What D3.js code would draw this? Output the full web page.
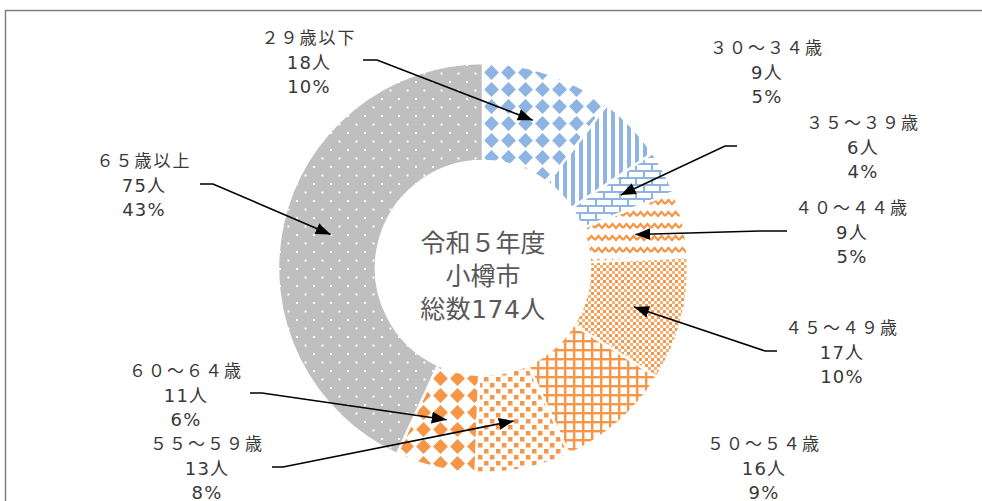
<!DOCTYPE html>
<html><head><meta charset="utf-8">
<script src="https://cdn.jsdelivr.net/npm/d3@7/dist/d3.min.js"></script>
<style>html,body{margin:0;padding:0;background:#fff;}svg{display:block;}</style>
</head><body>
<script>
// ---- data ----
const categories = ["２９歳以下","３０～３４歳","３５～３９歳","４０～４４歳","４５～４９歳","５０～５４歳","５５～５９歳","６０～６４歳","６５歳以上"];
const counts = [18, 9, 6, 9, 17, 16, 13, 11, 75];
const percents = ["10%","5%","4%","5%","10%","9%","8%","6%","43%"];
const centerLines = ["令和５年度","小樽市","総数174人"];
const patternIds = ["pDiamBlue","pStripeBlue","pBrickBlue","pWaveOrange","pCheckOrange","pGridOrange","pSquaresOrange","pDiamOrange","pDotsGray"];

// ---- layout (label placement, leader elbows) ----
const labelPos = [[309,62],[767,72],[863,147],[852,232],[842,352],[764,468],[207,468],[186,395],[144,185]];
const leaderElbow = [[363,377,60],null,[737,725,146],[787,760,231],[777,765,351],null,[272,283,467],[250,262,393],[200,213,184]];

const W = 982, H = 501;
const cx = 483, cy = 268, rOuter = 205, rInner = 107;
const blue = "#8DB4E2", orange = "#F79646", gray = "#BFBFBF";
const fontFam = "'DejaVu Sans','Noto Sans CJK JP',sans-serif";

const svg = d3.select("body").append("svg").attr("width", W).attr("height", H);
const defs = svg.append("defs");

function pat(id, w, h, bg) {
  const p = defs.append("pattern").attr("id", id).attr("patternUnits", "userSpaceOnUse")
    .attr("width", w).attr("height", h);
  p.append("rect").attr("width", w).attr("height", h).attr("fill", bg);
  return p;
}
function diamonds(id, col) {
  const p = pat(id, 17, 17, "#fff");
  const s = 7.4;
  p.append("path").attr("d", `M8.5,${8.5-s}L${8.5+s},8.5L8.5,${8.5+s}L${8.5-s},8.5Z`).attr("fill", col);
  p.append("circle").attr("cx",8.5).attr("cy",8.5).attr("r",4.8).attr("fill",col);
}
diamonds("pDiamBlue", blue);
diamonds("pDiamOrange", orange);
{ const p = pat("pStripeBlue", 8, 8, "#fff");
  p.append("rect").attr("x", 0).attr("y", 0).attr("width", 4).attr("height", 8).attr("fill", blue); }
{ const p = pat("pBrickBlue", 16, 14, "#fff");
  p.append("rect").attr("x",0).attr("y",0).attr("width",16).attr("height",2).attr("fill",blue);
  p.append("rect").attr("x",0).attr("y",7).attr("width",16).attr("height",2).attr("fill",blue);
  p.append("rect").attr("x",0).attr("y",0).attr("width",2).attr("height",7).attr("fill",blue);
  p.append("rect").attr("x",8).attr("y",7).attr("width",2).attr("height",7).attr("fill",blue); }
{ const p = pat("pWaveOrange", 14, 12, "#fff");
  p.append("path").attr("d","M0,8 L3.5,4 L7,8 L10.5,4 L14,8").attr("fill","none").attr("stroke",orange).attr("stroke-width",2.2); }
{ const p = pat("pCheckOrange", 6, 6, "#fff");
  p.append("rect").attr("x",0).attr("y",0).attr("width",3).attr("height",3).attr("fill",orange);
  p.append("rect").attr("x",3).attr("y",3).attr("width",3).attr("height",3).attr("fill",orange).attr("opacity",0.75); }
{ const p = pat("pGridOrange", 9, 9, "#fff");
  p.append("rect").attr("x",0).attr("y",0).attr("width",9).attr("height",2.4).attr("fill",orange);
  p.append("rect").attr("x",0).attr("y",0).attr("width",2.4).attr("height",9).attr("fill",orange); }
{ const p = pat("pSquaresOrange", 12, 12, "#fff");
  p.append("rect").attr("x",1).attr("y",1).attr("width",4.5).attr("height",4.5).attr("fill",orange);
  p.append("rect").attr("x",7).attr("y",7).attr("width",4.5).attr("height",4.5).attr("fill",orange); }
{ const p = pat("pDotsGray", 17, 17, gray);
  p.append("rect").attr("x",0).attr("y",0).attr("width",2).attr("height",2).attr("fill","#fff");
  p.append("rect").attr("x",8.5).attr("y",8.5).attr("width",2).attr("height",2).attr("fill","#fff"); }

defs.append("marker").attr("id","arrow").attr("viewBox","0 0 14 11").attr("refX",14).attr("refY",5.5)
  .attr("markerWidth",15).attr("markerHeight",12).attr("markerUnits","userSpaceOnUse").attr("orient","auto")
  .append("path").attr("d","M0,0L14,5.5L0,11Z").attr("fill","#000");

svg.append("rect").attr("x",5.5).attr("y",10.5).attr("width",W+20).attr("height",H+20)
  .attr("fill","none").attr("stroke","#7f7f7f").attr("stroke-width",1.5);

const pie = d3.pie().sort(null).value(d => d)(counts);
const arc = d3.arc().innerRadius(rInner).outerRadius(rOuter);
const g = svg.append("g").attr("transform", `translate(${cx},${cy})`);
g.selectAll("path.slice").data(pie).join("path").attr("class","slice")
  .attr("d", arc).attr("fill", (d,i) => `url(#${patternIds[i]})`)
  .attr("stroke","#fff").attr("stroke-width",2.5).attr("stroke-linejoin","round");

const ct = svg.append("g").attr("font-family",fontFam)
  .attr("font-size",25).attr("fill","#595959").attr("text-anchor","middle");
centerLines.forEach((t,i) => {
  ct.append("text").attr("x",cx).attr("y",243 + i*33).attr("dominant-baseline","central")
    .attr("letter-spacing", i===2 ? "0.5px" : "0px").text(t);
});

const lg = svg.append("g");
pie.forEach((d,i) => {
  const e = leaderElbow[i];
  if (!e) return;
  const c = arc.centroid(d);
  const pts = [[e[0],e[2]],[e[1],e[2]],[cx+c[0], cy+c[1]]];
  lg.append("path").attr("d", d3.line()(pts)).attr("fill","none").attr("stroke","#000")
    .attr("stroke-width",1.6).attr("marker-end","url(#arrow)");
});

const lab = svg.append("g").attr("font-family",fontFam)
  .attr("fill","#383838").attr("text-anchor","middle");
categories.forEach((c,i) => {
  const [x,y] = labelPos[i];
  const lines = [c, counts[i] + "人", percents[i]];
  lines.forEach((t,j) => {
    lab.append("text").attr("x",x).attr("y",y + (j-1)*24).attr("dominant-baseline","central")
      .attr("font-size", j===0 ? 17 : 18)
      .attr("letter-spacing", j===0 ? "2px" : "1.2px").text(t);
  });
});
</script>
</body></html>
